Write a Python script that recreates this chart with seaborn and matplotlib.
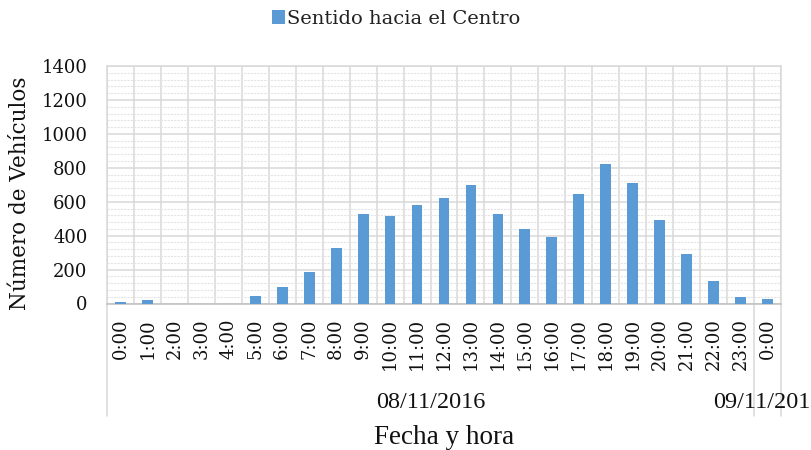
import numpy as np
import pandas as pd
import matplotlib
matplotlib.use("Agg")
import matplotlib.pyplot as plt
import matplotlib.transforms as mtransforms
from matplotlib.ticker import MultipleLocator, FixedLocator
import seaborn as sns

# datos
horas = ["0:00", "1:00", "2:00", "3:00", "4:00", "5:00", "6:00", "7:00", "8:00",
         "9:00", "10:00", "11:00", "12:00", "13:00", "14:00", "15:00", "16:00",
         "17:00", "18:00", "19:00", "20:00", "21:00", "22:00", "23:00", "0:00"]
vehiculos = [10, 18, 0, 0, 0, 45, 98, 187, 328, 528, 515, 582, 624, 697, 528,
             438, 390, 643, 820, 710, 492, 290, 133, 40, 25]
fechas = ["08/11/2016", "09/11/2016"]
n_por_fecha = [24, 1]
serie = "Sentido hacia el Centro"

azul = "#5B9BD5"
gris = "#D9D9D9"

df = pd.DataFrame({"pos": np.arange(len(horas)), "vehiculos": vehiculos})

sns.set_style("white")
plt.rcParams["font.family"] = ["DejaVu Serif"]

fig = plt.figure(figsize=(8.11, 4.5), dpi=100)
ax = fig.add_axes([107 / 811, 1 - 303.5 / 450, 674 / 811, 237.5 / 450])

sns.barplot(data=df, x="pos", y="vehiculos", color=azul, saturation=1,
            width=0.4, label=serie, ax=ax)
h, l = ax.get_legend_handles_labels()
if ax.get_legend() is not None:
    ax.get_legend().remove()
for p in ax.patches:
    p.set_linewidth(0)
    p.set_zorder(3)  # encima del eje para que se vean las barras bajas

ax.set_ylim(0, 1400)
ax.set_xlim(-0.5, len(horas) - 0.5)
ax.yaxis.set_major_locator(MultipleLocator(200))
ax.yaxis.set_minor_locator(MultipleLocator(40))
ax.xaxis.set_minor_locator(FixedLocator(np.arange(-0.5, len(horas), 1)))
ax.set_axisbelow(True)
ax.yaxis.grid(True, which="major", color=gris, lw=1.1)
ax.yaxis.grid(True, which="minor", color="#E4E4E4", lw=0.8, ls=(0, (2, 1)))
ax.xaxis.grid(True, which="minor", color=gris, lw=1.1)
ax.xaxis.grid(False, which="major")
for s in ax.spines.values():
    s.set_color(gris)
    s.set_linewidth(1.1)
ax.spines["bottom"].set_color("#BFBFBF")

ax.set_xticks(df["pos"])
ax.set_xticklabels(horas, rotation=90, fontsize=13, color="#111111")
ax.tick_params(axis="x", which="both", length=0, pad=10.5)
ax.tick_params(axis="y", which="both", length=0, pad=14, labelsize=13, labelcolor="#111111")
ax.set_xlabel("")
ax.set_ylabel("")

# eje de categorias de dos niveles
trans = mtransforms.blended_transform_factory(ax.transData, ax.transAxes)
bordes = np.concatenate([[0], np.cumsum(n_por_fecha)]) - 0.5
for b in bordes:
    ax.plot([b, b], [0, -0.474], transform=trans, color=gris, lw=1.1, clip_on=False)
for i, f in enumerate(fechas):
    centro = (bordes[i] + bordes[i + 1]) / 2
    ax.text(centro, -0.418, f, transform=trans, ha="center", va="center",
            fontsize=17.5, family="Liberation Serif", color="#111111")

fig.text(444 / 811, 1 - 438 / 450, "Fecha y hora", ha="center", va="center",
         fontsize=19.5, family="Liberation Serif", color="#111111")
fig.text(20 / 811, 1 - 193.5 / 450, "Número de Vehículos", rotation=90,
         ha="center", va="center", fontsize=15.5, color="#111111")

fig.legend(h[:1], l[:1], loc="center", bbox_to_anchor=(396 / 811, 1 - 19 / 450),
           frameon=False, fontsize=14, handlelength=0.7, handleheight=0.7,
           handletextpad=0.1, labelcolor="#222222")

fig.savefig("out.png", dpi=100)
